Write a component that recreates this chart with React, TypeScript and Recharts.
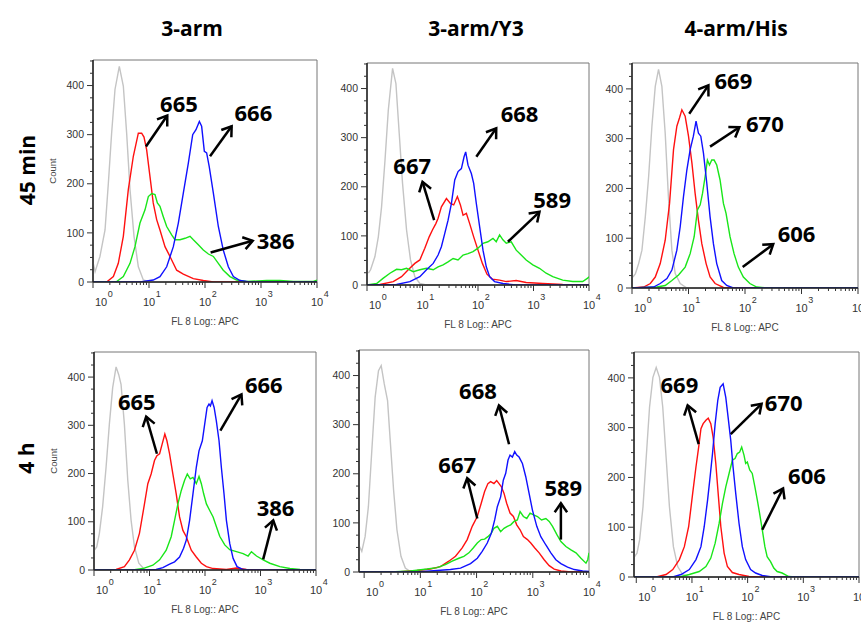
import React from 'react';
import { LineChart, Line, XAxis, YAxis, ReferenceLine, ReferenceDot, ReferenceArea } from 'recharts';

type Pt = [number, number];

const COLUMN_TITLES = ['3-arm', '3-arm/Y3', '4-arm/His'];
const ROW_TITLES = ['45 min', '4 h'];
const X_LABEL = 'FL 8 Log:: APC';
const Y_LABEL = 'Count';
const X_TICKS = [1, 2, 3, 4, 5, 6, 7, 8, 9, 10, 20, 30, 40, 50, 60, 70, 80, 90, 100, 200, 300, 400, 500, 600, 700, 800, 900, 1000, 2000, 3000, 4000, 5000, 6000, 7000, 8000, 9000, 10000];
const Y_TICKS = [0, 25, 50, 75, 100, 125, 150, 175, 200, 225, 250, 275, 300, 325, 350, 375, 400, 425, 450];
const X_MAX = 10000;
const Y_MAX = 452;

// ---------- Panel 1: 3-arm, 45 min ----------
const p1Gray: Pt[] = [[1.01,38],[1.09,21],[1.33,52],[1.64,106],[1.88,201],[2.15,303],[2.47,392],[2.95,439],[3.48,399],[3.99,303],[4.58,188],[5.40,93],[6.45,31],[7.92,4],[10.4,0],[10000,0]];
const p1Red: Pt[] = [[1,0],[1.75,0],[2.31,11],[2.83,38],[3.48,93],[4.27,188],[5.25,256],[6.45,303],[7.39,303],[8.14,295],[9.08,269],[10.4,215],[11.9,161],[13.7,127],[15.7,106],[19.3,72],[23.7,52],[31.2,24],[41.0,16],[61.9,7],[93.3,3],[141,0],[10000,0]];
const p1Green: Pt[] = [[1,0],[2.65,1],[3.48,11],[4.58,38],[5.62,72],[6.90,120],[8.49,147],[9.73,174],[11.2,180],[12.8,178],[14.1,161],[15.7,154],[18.0,133],[20.7,113],[25.4,96],[29.1,86],[35.8,86],[44.0,89],[54.0,93],[61.9,86],[76.0,76],[93.3,65],[115,57],[141,52],[173,38],[212,24],[279,11],[367,4],[555,1],[1262,3],[2183,3],[3776,1],[8610,1],[10000,4]];
const p1Blue: Pt[] = [[1,0],[6.90,0],[11.9,4],[15.7,11],[20.7,31],[27.2,72],[33.4,120],[41.0,181],[50.4,242],[60.3,300],[69.0,310],[79.3,327],[87.1,317],[97.3,266],[107,263],[119,235],[141,181],[173,113],[212,65],[261,31],[321,11],[422,3],[637,0],[10000,0]];

// ---------- Panel 2: 3-arm/Y3, 45 min ----------
const p2Gray: Pt[] = [[1.06,24],[1.16,31],[1.39,58],[1.60,98],[1.83,159],[2.11,254],[2.42,356],[2.89,441],[3.32,410],[3.81,308],[4.37,207],[5.16,112],[6.08,51],[7.28,17],[8.96,3],[11.8,0],[10000,0]];
const p2Red: Pt[] = [[1,0],[1.71,1],[2.97,7],[4.19,17],[5.53,31],[7.28,44],[8.96,51],[11.0,75],[13.2,98],[15.1,112],[17.4,125],[19.1,136],[21.9,159],[27.0,176],[31.8,166],[36.5,163],[42.5,180],[48.2,163],[53.8,142],[61.7,146],[70.8,125],[83.6,98],[100,71],[120,44],[145,22],[181,12],[245,10],[323,7],[488,9],[738,5],[1472,3],[3365,1],[10000,0]];
const p2Green: Pt[] = [[1,0],[1.49,3],[1.97,14],[2.59,24],[3.41,32],[4.19,31],[5.16,34],[6.80,27],[8.96,31],[11.8,34],[15.6,31],[19.1,37],[23.5,41],[28.9,47],[35.6,54],[43.7,51],[53.8,61],[66.1,64],[81.3,68],[100,75],[123,85],[151,88],[186,95],[213,88],[245,102],[281,92],[323,85],[397,88],[488,71],[600,61],[738,51],[973,41],[1282,34],[1690,24],[2223,17],[3365,10],[5093,7],[7691,7],[9460,14],[10000,17]];
const p2Blue: Pt[] = [[1,0],[3.41,1],[5.92,7],[8.96,17],[11.8,31],[15.6,44],[19.1,61],[21.9,78],[25.2,105],[28.9,132],[33.2,166],[38.1,214],[43.7,231],[50.2,237],[56.1,261],[60.0,271],[66.1,244],[75.9,227],[83.6,207],[93.3,166],[107,119],[123,71],[141,37],[162,17],[199,7],[281,3],[488,0],[10000,0]];

// ---------- Panel 3: 4-arm/His, 45 min ----------
const p3Gray: Pt[] = [[1.04,22],[1.15,29],[1.31,49],[1.50,76],[1.72,143],[1.97,224],[2.25,325],[2.58,405],[2.95,439],[3.38,405],[3.87,311],[4.44,177],[5.08,76],[5.82,29],[7.13,9],[9.35,0],[10000,0]];
const p3Red: Pt[] = [[1,0],[1.61,2],[2.11,9],[2.58,22],[3.16,49],[3.87,96],[4.62,170],[5.43,278],[6.22,325],[6.94,342],[7.63,358],[8.73,345],[10.0,305],[11.5,251],[13.1,190],[15.0,136],[17.2,89],[20.5,49],[24.1,22],[29.6,9],[41.5,1],[54.3,0],[10000,0]];
const p3Green: Pt[] = [[1,0],[2.76,2],[3.87,5],[5.08,15],[6.66,26],[8.73,42],[10.7,69],[12.6,103],[14.4,157],[16.1,167],[17.7,190],[19.7,224],[21.6,257],[23.5,247],[25.8,257],[28.4,257],[31.6,247],[36.2,217],[41.5,170],[46.2,150],[54.3,103],[64.0,69],[76.2,42],[93.5,22],[122,9],[161,2],[241,0],[10000,0]];
const p3Blue: Pt[] = [[1,0],[2.41,2],[3.16,9],[4.15,19],[5.08,36],[6.22,76],[7.13,123],[8.16,184],[9.35,237],[10.7,278],[12.2,305],[13.6,335],[15.0,311],[16.5,305],[18.4,271],[21.1,210],[24.1,143],[27.6,89],[31.6,49],[38.7,15],[47.5,5],[62.2,0],[10000,0]];

// ---------- Panel 4: 3-arm, 4 h ----------
const p4Gray: Pt[] = [[1.01,41],[1.12,48],[1.25,76],[1.43,131],[1.65,213],[1.89,302],[2.17,378],[2.50,421],[2.79,405],[3.07,385],[3.53,302],[4.06,186],[4.66,103],[5.36,48],[6.42,14],[8.12,1],[10.0,0],[10000,0]];
const p4Red: Pt[] = [[1,0],[1.89,0],[2.50,1],[3.53,7],[4.35,21],[5.36,41],[6.59,76],[8.12,137],[9.33,179],[10.7,199],[12.3,227],[13.6,237],[15.2,241],[16.9,261],[18.9,282],[20.6,268],[23.0,241],[26.4,199],[30.3,158],[34.8,110],[40.0,82],[46.0,69],[56.6,41],[69.7,27],[85.9,14],[106,7],[140,3],[243,1],[368,4],[558,1],[847,0],[10000,0]];
const p4Green: Pt[] = [[1,0],[5.00,0],[7.58,3],[11.5,10],[15.2,21],[20.0,41],[24.6,69],[28.3,103],[32.5,137],[37.4,165],[42.9,186],[48.0,199],[54.3,189],[60.7,192],[69.7,179],[78.0,194],[85.9,179],[94.6,158],[106,137],[121,124],[140,110],[160,90],[184,70],[227,52],[279,42],[368,38],[486,34],[598,29],[687,38],[847,29],[1117,21],[1474,14],[2235,7],[3388,3],[5140,1],[10000,0]];
const p4Blue: Pt[] = [[1,0],[7.58,0],[13.2,1],[17.4,5],[23.0,12],[28.3,17],[34.8,27],[41.1,45],[46.0,62],[52.8,103],[60.7,158],[69.7,213],[78.0,247],[89.5,268],[98.6,302],[109,337],[118,344],[125,340],[134,351],[146,337],[160,309],[179,268],[197,213],[220,158],[243,103],[279,55],[321,24],[378,7],[486,1],[641,0],[10000,0]];

// ---------- Panel 5: 3-arm/Y3, 4 h ----------
const p5Gray: Pt[] = [[0.826,52],[0.908,42],[1.04,72],[1.19,133],[1.37,248],[1.57,356],[1.80,410],[2.01,420],[2.28,383],[2.61,349],[2.91,268],[3.34,167],[3.83,86],[4.52,32],[5.40,8],[6.63,1],[8.72,0],[10000,0]];
const p5Red: Pt[] = [[0.81,0],[3.83,0],[8.72,3],[15.1,6],[22.8,11],[32.1,22],[42.2,32],[55.5,49],[68.1,66],[83.7,93],[103,113],[121,140],[139,164],[159,180],[178,184],[204,180],[228,186],[251,180],[275,174],[308,160],[343,140],[394,120],[452,113],[518,96],[594,86],[681,72],[804,66],[921,59],[1086,49],[1297,39],[1593,25],[1959,13],[2404,6],[3162,2],[4775,0],[10000,0]];
const p5Green: Pt[] = [[0.81,0],[2.91,0],[6.63,2],[13.2,6],[19.8,9],[27.9,15],[36.8,22],[48.4,28],[59.4,32],[73.0,39],[87.1,49],[103,59],[121,66],[139,67],[159,72],[183,79],[204,89],[234,93],[268,82],[308,89],[353,93],[405,96],[464,103],[532,106],[594,123],[681,113],[782,109],[896,120],[1057,116],[1211,113],[1429,106],[1708,109],[1959,103],[2244,93],[2685,76],[3162,62],[3882,52],[4775,45],[5861,39],[7194,28],[8834,18],[9500,25],[10000,39]];
const p5Blue: Pt[] = [[0.81,0],[8.72,0],[19.8,3],[34.3,5],[51.8,8],[78.1,17],[103,28],[126,42],[155,59],[183,79],[210,106],[234,133],[268,153],[299,187],[330,201],[363,228],[394,238],[434,234],[477,245],[518,238],[570,234],[654,221],[750,194],[860,160],[986,126],[1178,93],[1390,72],[1708,55],[2096,39],[2574,25],[3162,17],[4159,10],[5470,5],[7709,2],[10000,1]];

// ---------- Panel 6: 4-arm/His, 4 h ----------
const p6Gray: Pt[] = [[0.933,41],[1.03,48],[1.15,75],[1.32,141],[1.51,241],[1.73,341],[1.99,401],[2.28,421],[2.61,401],[2.99,341],[3.43,241],[3.94,141],[4.64,61],[5.55,21],[6.81,5],[8.96,0],[10000,0]];
const p6Red: Pt[] = [[0.91,0],[2.28,0],[3.43,5],[4.52,15],[5.94,35],[7.30,61],[8.72,101],[10.3,168],[11.8,221],[13.2,261],[14.5,298],[15.9,308],[17.8,315],[19.6,319],[21.8,308],[24.0,281],[26.8,228],[29.9,161],[33.0,101],[37.8,48],[43.3,21],[53.2,9],[70.0,5],[106,1],[159,0],[10000,0]];
const p6Green: Pt[] = [[0.91,0],[5.94,0],[8.96,5],[13.5,11],[17.8,21],[21.8,38],[26.1,68],[30.8,108],[35.3,148],[40.5,181],[46.4,208],[53.2,235],[59.4,238],[65.3,248],[71.9,251],[78.2,261],[86.0,245],[92.1,228],[98.6,231],[109,215],[121,208],[135,181],[149,155],[164,128],[183,95],[204,61],[224,41],[258,31],[295,18],[339,11],[416,8],[547,1],[719,0],[10000,0]];
const p6Blue: Pt[] = [[0.91,0],[4.52,0],[6.36,5],[8.96,15],[11.8,35],[14.5,61],[16.6,101],[19.1,155],[20.9,195],[23.4,248],[26.1,308],[29.1,355],[32.1,381],[36.3,388],[40.5,361],[45.2,315],[49.7,275],[54.7,221],[61.1,168],[70.0,108],[80.3,61],[92.1,35],[113,15],[139,8],[183,3],[275,0],[10000,0]];

// ---------- Annotations (label, arrow tail, arrow head, text centre; data coordinates) ----------
type Note = { label: string; tail: Pt; head: Pt; text: Pt };
const p1Notes: Note[] = [
  { label: '665', tail: [8.83, 276], head: [21.2, 339], text: [34.3, 364] },
  { label: '666', tail: [123, 256], head: [299, 317], text: [730, 346] },
  { label: '386', tail: [126, 60], head: [710, 84], text: [1828, 86] },
];
const p2Notes: Note[] = [
  { label: '667', tail: [16.2, 132], head: [10.0, 210], text: [6.52, 244] },
  { label: '668', tail: [93.3, 261], head: [213, 319], text: [561, 350] },
  { label: '589', tail: [346, 88], head: [1282, 149], text: [2163, 176] },
];
const p3Notes: Note[] = [
  { label: '669', tail: [10.3, 350], head: [22.5, 407], text: [62.2, 417] },
  { label: '670', tail: [24.1, 284], head: [79.4, 323], text: [225, 331] },
  { label: '606', tail: [91, 42], head: [316, 88], text: [817, 110] },
];
const p4Notes: Note[] = [
  { label: '665', tail: [13.6, 241], head: [8.71, 318], text: [5.9, 351] },
  { label: '666', tail: [189, 289], head: [454, 364], text: [1148, 386] },
  { label: '386', tail: [1117, 22], head: [1694, 103], text: [1866, 131] },
];
const p5Notes: Note[] = [
  { label: '668', tail: [378, 260], head: [250, 339], text: [106, 370] },
  { label: '667', tail: [103, 109], head: [68.1, 191], text: [45.2, 220] },
  { label: '589', tail: [3162, 66], head: [3162, 140], text: [3483, 174] },
];
const p6Notes: Note[] = [
  { label: '669', tail: [13.2, 267], head: [8.37, 345], text: [5.94, 388] },
  { label: '670', tail: [49.7, 287], head: [178, 348], text: [445, 351] },
  { label: '606', tail: [183, 95], head: [433, 178], text: [1162, 205] },
];

const COLORS = { gray: '#c4c4c4', red: '#ff1010', green: '#19e619', blue: '#1010ff' };

const PANEL_DATA = [
  { series: [p1Gray, p1Red, p1Green, p1Blue], notes: p1Notes },
  { series: [p2Gray, p2Red, p2Green, p2Blue], notes: p2Notes },
  { series: [p3Gray, p3Red, p3Green, p3Blue], notes: p3Notes },
  { series: [p4Gray, p4Red, p4Green, p4Blue], notes: p4Notes },
  { series: [p5Gray, p5Red, p5Green, p5Blue], notes: p5Notes },
  { series: [p6Gray, p6Red, p6Green, p6Blue], notes: p6Notes },
];
const SERIES_COLORS = [COLORS.gray, COLORS.red, COLORS.green, COLORS.blue];

// layout: plot rectangle in page pixels
const LAYOUT = [
  { L: 93, R: 317, T: 60, B: 282, xMin: 1, count: true },
  { L: 367, R: 589, T: 63, B: 285, xMin: 1, count: false },
  { L: 632, R: 858, T: 63, B: 288, xMin: 1, count: false },
  { L: 94, R: 316, T: 352, B: 570, xMin: 1, count: true },
  { L: 359, R: 589, T: 350, B: 572, xMin: 0.81, count: false },
  { L: 634, R: 859, T: 352, B: 577, xMin: 0.91, count: false },
];
const TITLE_POS = [{ x: 192, y: 28 }, { x: 476, y: 28 }, { x: 736, y: 28 }];
const ROW_POS = [{ x: 27, y: 170 }, { x: 26, y: 458 }];

const AXIS_FONT = "'Liberation Sans', Arial, sans-serif";
const BOLD_FONT = "'Open Sans', 'Liberation Sans', sans-serif";

const XTick = (props: any) => {
  const { x, y, payload } = props;
  const v = payload.value;
  const lg = Math.log10(v);
  const exp = Math.round(lg);
  const major = Math.abs(lg - exp) < 1e-9;
  const lx = x + (exp === 0 ? 8 : 0);
  return (
    <g>
      <line x1={x} x2={x} y1={y} y2={y + (major ? 6 : 3)} stroke="#333" strokeWidth={1} />
      {major && (
        <g fontFamily={AXIS_FONT} fill="#333">
          <text x={lx} y={y + 24} fontSize={11} textAnchor="middle">10</text>
          <text x={lx + 6.8} y={y + 14.5} fontSize={9} textAnchor="start">{exp}</text>
        </g>
      )}
    </g>
  );
};

const YTick = (props: any) => {
  const { x, y, payload } = props;
  const v = payload.value;
  const major = v % 100 === 0;
  return (
    <g>
      <line x1={x - (major ? 6 : 3)} x2={x} y1={y} y2={y} stroke="#333" strokeWidth={1} />
      {major && (
        <text x={x - 9} y={y + 3.7} fontSize={10.5} textAnchor="end" fill="#333" fontFamily={AXIS_FONT}>{v}</text>
      )}
    </g>
  );
};

const Arrow = (props: any) => {
  const { x1, y1, x2, y2 } = props;
  if ([x1, y1, x2, y2].some((n) => typeof n !== 'number' || isNaN(n))) return <g />;
  const ang = Math.atan2(y2 - y1, x2 - x1);
  const len = 11;
  const spread = 0.6;
  const a1 = ang + Math.PI - spread;
  const a2 = ang + Math.PI + spread;
  return (
    <g>
      <line x1={x1} y1={y1} x2={x2} y2={y2} stroke="#000" strokeWidth={2.5} />
      <polyline
        points={`${x2 + len * Math.cos(a1)},${y2 + len * Math.sin(a1)} ${x2},${y2} ${x2 + len * Math.cos(a2)},${y2 + len * Math.sin(a2)}`}
        fill="none"
        stroke="#000"
        strokeWidth={2.5}
        strokeLinejoin="miter"
      />
    </g>
  );
};

const makeNoteText = (label: string) => (props: any) => (
  <text
    x={props.cx}
    y={props.cy}
    textAnchor="middle"
    dominantBaseline="central"
    fontFamily={BOLD_FONT}
    fontWeight={700}
    fontSize={22}
    fill="#000"
  >
    {label}
  </text>
);

const YW = 45;
const XH = 50;
const MT = 2;
const MR = 14;

function Panel({ idx }: { idx: number }) {
  const cfg = LAYOUT[idx];
  const { series, notes } = PANEL_DATA[idx];
  const W = cfg.R - cfg.L;
  const H = cfg.B - cfg.T;
  return (
    <div style={{ position: 'absolute', left: cfg.L - YW, top: cfg.T - MT }}>
      <LineChart width={YW + W + MR} height={MT + H + XH} margin={{ top: MT, right: MR, bottom: 0, left: 0 }}>
        <XAxis
          dataKey="x"
          type="number"
          scale="log"
          domain={[cfg.xMin, X_MAX]}
          allowDataOverflow
          ticks={X_TICKS}
          interval={0}
          tick={<XTick />}
          tickLine={false}
          tickSize={0}
          tickMargin={0}
          height={XH}
          axisLine={{ stroke: '#222', strokeWidth: 1.5 }}
          label={{ value: X_LABEL, position: 'insideBottom', offset: 7, fontSize: 10, fill: '#444', fontFamily: AXIS_FONT }}
        />
        <YAxis
          type="number"
          domain={[0, Y_MAX]}
          allowDataOverflow
          ticks={Y_TICKS}
          interval={0}
          tick={<YTick />}
          tickLine={false}
          tickSize={0}
          tickMargin={0}
          width={YW}
          axisLine={{ stroke: '#222', strokeWidth: 1.5 }}
        />
        <ReferenceArea x1={cfg.xMin} x2={X_MAX} y1={0} y2={Y_MAX} fill="none" stroke="#777" strokeWidth={1} ifOverflow="visible" />
        {series.map((pts, i) => (
          <Line
            key={i}
            data={pts.map(([x, y]) => ({ x, y }))}
            dataKey="y"
            type="linear"
            stroke={SERIES_COLORS[i]}
            strokeWidth={1.4}
            dot={false}
            activeDot={false}
            isAnimationActive={false}
          />
        ))}
        {notes.map((n, i) => (
          <ReferenceLine
            key={'a' + i}
            segment={[{ x: n.tail[0], y: n.tail[1] }, { x: n.head[0], y: n.head[1] }]}
            shape={Arrow}
            ifOverflow="visible"
          />
        ))}
        {notes.map((n, i) => (
          <ReferenceDot key={'t' + i} x={n.text[0]} y={n.text[1]} r={0} shape={makeNoteText(n.label)} ifOverflow="visible" />
        ))}
      </LineChart>
    </div>
  );
}

export default function App() {
  return (
    <div style={{ position: 'absolute', left: 0, top: 0, width: 861, height: 622, overflow: 'hidden', background: '#fff' }}>
      {LAYOUT.map((_, i) => (
        <Panel key={i} idx={i} />
      ))}
      <svg width={861} height={622} style={{ position: 'absolute', left: 0, top: 0, pointerEvents: 'none' }}>
        {COLUMN_TITLES.map((t, i) => (
          <text key={t} x={TITLE_POS[i].x} y={TITLE_POS[i].y} textAnchor="middle" dominantBaseline="central" fontFamily={BOLD_FONT} fontWeight={700} fontSize={21}>
            {t}
          </text>
        ))}
        {ROW_TITLES.map((t, i) => (
          <text key={t} x={ROW_POS[i].x} y={ROW_POS[i].y} textAnchor="middle" dominantBaseline="central" fontFamily={BOLD_FONT} fontWeight={700} fontSize={21} transform={`rotate(-90 ${ROW_POS[i].x} ${ROW_POS[i].y})`}>
            {t}
          </text>
        ))}
        {LAYOUT.filter((c) => c.count).map((c, i) => (
          <text key={i} x={c.L - 41} y={(c.T + c.B) / 2} textAnchor="middle" dominantBaseline="central" fontFamily={AXIS_FONT} fontSize={9.5} fill="#444" transform={`rotate(-90 ${c.L - 41} ${(c.T + c.B) / 2})`}>
            {Y_LABEL}
          </text>
        ))}
      </svg>
    </div>
  );
}
